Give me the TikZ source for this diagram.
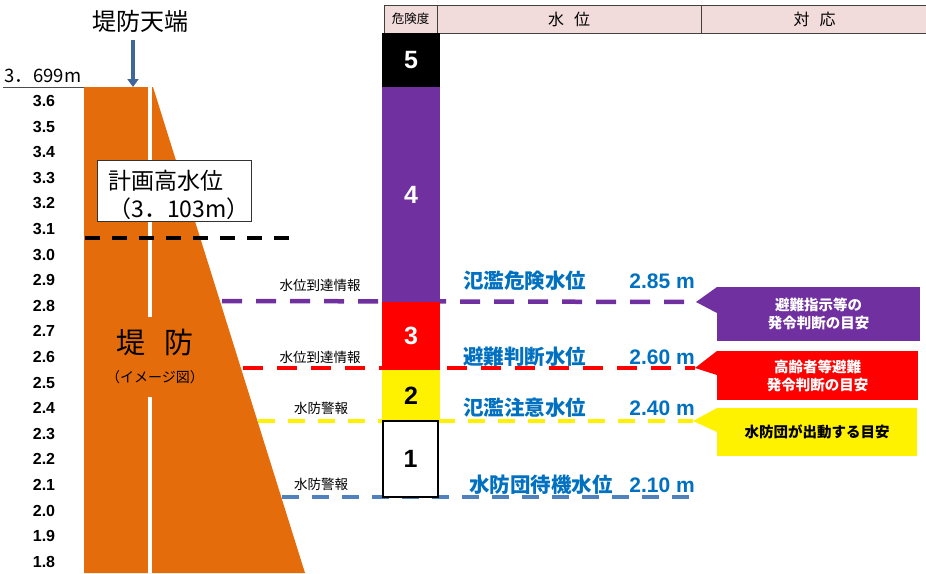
\documentclass[tikz,border=0pt]{standalone}
\usepackage{fontspec}
\setmainfont{Liberation Sans}
\newfontfamily\jp{Noto Sans CJK JP}
\usetikzlibrary{arrows.meta,calc}
\definecolor{embk}{HTML}{E46C0A}
\definecolor{purp}{HTML}{7030A0}
\definecolor{bluet}{HTML}{0070C0}
\definecolor{blued}{HTML}{4F81BD}
\definecolor{pinkh}{HTML}{F2DCDB}
\definecolor{arrowc}{HTML}{41679A}
\begin{document}
\begin{tikzpicture}[x=1pt,y=-1pt,
  axis/.style={font=\bfseries\fontsize{16}{16}\selectfont, inner sep=0pt},
  infol/.style={font=\jp\fontsize{13.5}{14}\selectfont, inner sep=0pt},
  wl/.style={font=\jp\bfseries\fontsize{20.5}{21}\selectfont, text=bluet, anchor=west, inner sep=0pt},
  wv/.style={font=\bfseries\fontsize{21}{21}\selectfont, text=bluet, anchor=east, inner sep=0pt},
  lvl/.style={font=\bfseries\fontsize{25}{25}\selectfont, anchor=north west, minimum width=58pt, inner sep=0pt, outer sep=0pt},
  callout/.style={font=\jp\bfseries\fontsize{14.5}{18}\selectfont, align=center, anchor=north west, inner sep=0pt, outer sep=0pt},
  hdr/.style={draw=black!75, fill=pinkh, line width=0.8pt, anchor=north west, inner sep=0pt, outer sep=0pt, minimum height=28pt},
  lvline/.style={line width=4.5pt, dash pattern=on 20pt off 14pt},
  lvlinet/.style={line width=3.5pt, dash pattern=on 17pt off 13pt}
]
\useasboundingbox (0,0) rectangle (926,573);

% embankment
\coordinate (etl) at (84,87);
\coordinate (etr) at (153,87);
\coordinate (ebr) at (305,573);
\coordinate (ebl) at (84,573);
\coordinate (etop) at (133,87);
\fill[embk] (etl) -- (etr) -- (ebr) -- (ebl) -- cycle;
\draw[white, line width=4pt] (150,87) -- (150,317) (150,397) -- (150,573);
\node[font=\jp\fontsize{29}{29}\selectfont, inner sep=0pt] (emb) at (155,342) {堤\hspace{20pt}防};
\node[font=\jp\fontsize{14}{14}\selectfont, inner sep=0pt] (embsub) at (155,377) {（イメージ図）};

% top of embankment
\node[font=\jp\fontsize{24}{24}\selectfont, inner sep=0pt] (tt) at (140,21) {堤防天端};
\coordinate (arst) at (133,40);
\draw[arrowc, line width=3.5pt, -{Triangle[width=11pt,length=8pt]}] (arst) -- (etop);
\node[font=\jp\fontsize{18.5}{18.5}\selectfont, inner sep=0pt] (top) at (43,76) {3．699m};
\coordinate (tl) at (3,87);
\draw[black!70, line width=1pt] (tl) -- (etl);

% axis
\foreach \v [count=\i from 0] in {3.6,3.5,3.4,3.3,3.2,3.1,3.0,2.9,2.8,2.7,2.6,2.5,2.4,2.3,2.2,2.1,2.0,1.9,1.8}
  \node[axis] (ax\i) at (44,{101+25.6*\i}) {\v};

% planned high water level
\node[draw=black!80, fill=white, line width=0.8pt, anchor=north west, minimum width=154pt, minimum height=61pt,
      inner sep=0pt] (plan) at (97,160) {};
\node[inner sep=0pt, align=left, text width=136pt, font=\jp\fontsize{23}{28}\selectfont] (plantxt)
      at ($(plan.center)+(2,4)$) {計画高水位\\（3．103m）};
\coordinate (pl) at (85,238);
\coordinate (pr) at (290,238);
\draw[line width=4pt, dash pattern=on 15pt off 12pt] (pl) -- (pr);

% callouts tips and dashed level lines
\coordinate (l1) at (222,301); \coordinate (t1) at (696,302);
\coordinate (l2) at (243,368); \coordinate (t2) at (695,368);
\coordinate (l3) at (258,421); \coordinate (t3) at (693,421);
\coordinate (l4) at (282,497); \coordinate (t4) at (697,497);
\draw[lvline, purp] (l1) -- (t1);
\draw[lvline, red] (l2) -- (t2);
\draw[lvlinet, yellow] (l3) -- (t3);
\draw[lvlinet, blued] (l4) -- (t4);

% header
\node[hdr, minimum width=53pt, font=\jp\fontsize{12.5}{13}\selectfont] (h1) at (384,5) {危険度};
\node[hdr, minimum width=264pt, font=\jp\fontsize{16}{16}\selectfont] (h2) at (437,5) {水\hspace{10pt}位};
\node[hdr, minimum width=227pt, font=\jp\fontsize{16}{16}\selectfont] (h3) at (701,5) {対\hspace{10pt}応};

% level blocks
\node[lvl, fill=black, text=white, minimum height=54pt] (b5) at (382,33) {5};
\node[lvl, fill=purp, text=white, minimum height=215pt] (b4) at (382,87) {4};
\node[lvl, fill=red, text=white, minimum height=68pt] (b3) at (382,302) {3};
\node[lvl, fill=yellow, text=black, minimum height=51pt] (b2) at (382,370) {2};
\node[lvl, draw=black, line width=1.2pt, fill=white, text=black, minimum width=55pt, minimum height=76pt] (b1) at (383,421) {1};

% left labels
\node[infol] (i1) at (320,285) {水位到達情報};
\node[infol] (i2) at (320,357) {水位到達情報};
\node[infol] (i3) at (321,408) {水防警報};
\node[infol] (i4) at (321,484) {水防警報};

% water level labels
\node[wl] (w1) at (463,281) {氾濫危険水位};
\node[wv] (v1) at (695,281) {2.85 m};
\node[wl] (w2) at (463,357) {避難判断水位};
\node[wv] (v2) at (695,357) {2.60 m};
\node[wl] (w3) at (463,408) {氾濫注意水位};
\node[wv] (v3) at (695,408) {2.40 m};
\node[wl] (w4) at (469,485) {水防団待機水位};
\node[wv] (v4) at (695,485) {2.10 m};

% callouts
\node[callout, fill=purp, text=white, minimum width=203pt, minimum height=54pt] (c1) at (717,287) {避難指示等の\\発令判断の目安};
\fill[purp] (c1.north west) -- (t1) -- ($(c1.north west)+(0,26)$) -- cycle;
\node[callout, fill=red, text=white, minimum width=201pt, minimum height=49pt] (c2) at (717,351) {高齢者等避難\\発令判断の目安};
\fill[red] (c2.north west) -- (t2) -- ($(c2.north west)+(0,24)$) -- cycle;
\node[callout, fill=yellow, text=black, minimum width=200pt, minimum height=48pt] (c3) at (717,408) {水防団が出動する目安};
\fill[yellow] (c3.north west) -- (t3) -- ($(c3.north west)+(0,24)$) -- cycle;
\end{tikzpicture}
\end{document}
